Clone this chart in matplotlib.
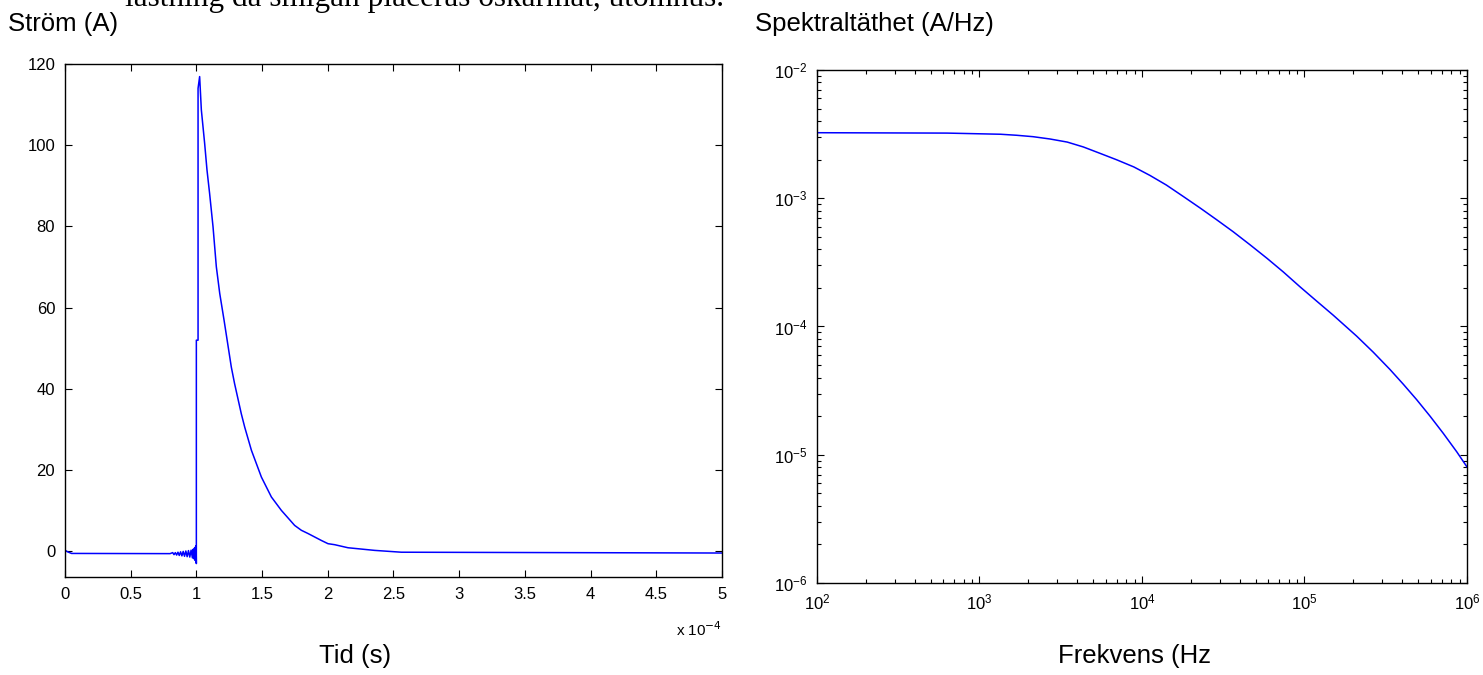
import numpy as np
import matplotlib
matplotlib.use("Agg")
import matplotlib.pyplot as pl

matplotlib.rcParams.update({'font.family': 'Liberation Sans', 'font.size': 12})

# left panel: current pulse, time in units of 1e-4 s
tid = [0.0, 0.02, 0.05, 0.80,
       0.82, 0.83, 0.84, 0.85, 0.86, 0.87, 0.88, 0.89, 0.90, 0.91, 0.92, 0.93,
       0.94, 0.95, 0.96, 0.97, 0.975, 0.98, 0.985, 0.99, 0.993, 0.996, 0.998,
       1.0, 1.0, 1.013, 1.013, 1.025, 1.038, 1.063, 1.081, 1.101, 1.127, 1.152,
       1.178, 1.211, 1.266, 1.291, 1.342, 1.368, 1.419, 1.495, 1.571, 1.647,
       1.748, 1.799, 1.850, 1.951, 2.002, 2.053, 2.154, 2.357, 2.56, 5.0]
strom = [0.3, -0.1, -0.5, -0.55,
         -0.3, -0.8, -0.3, -0.9, -0.2, -1.0, -0.1, -1.1, 0.0, -1.2, 0.1, -1.3,
         0.2, -1.4, 0.3, -1.6, 0.5, -1.8, 0.8, -2.2, 1.1, -2.6, 1.4,
         -3.0, 52.0, 52.0, 114.0, 116.9, 108.7, 100.5, 93.9, 88.1, 79.9, 70.1,
         63.5, 56.9, 45.4, 41.3, 33.9, 30.6, 24.9, 18.3, 13.4, 10.1,
         6.4, 5.2, 4.4, 2.7, 1.9, 1.65, 0.9, 0.25, -0.2, -0.4]

# right panel: spectral density, read as log10 values
frekvens_log10 = [2.0, 2.8, 3.13, 3.229, 3.33, 3.434, 3.54, 3.639, 3.74, 3.844,
                  3.95, 4.049, 4.15, 4.254, 4.36, 4.46, 4.56, 4.665, 4.77, 4.87,
                  4.972, 5.075, 5.177, 5.321, 5.423, 5.526, 5.608, 5.69, 5.772,
                  5.854, 5.937, 6.0]
spektral_log10 = [-2.489, -2.492, -2.501, -2.509, -2.520, -2.538, -2.562, -2.600,
                  -2.649, -2.700, -2.756, -2.822, -2.897, -2.986, -3.078, -3.168,
                  -3.260, -3.363, -3.469, -3.575, -3.690, -3.802, -3.912, -4.075,
                  -4.200, -4.335, -4.450, -4.570, -4.698, -4.833, -4.977, -5.095]

frekvens = 10.0**np.array(frekvens_log10)
spektral = 10.0**np.array(spektral_log10)

fig = pl.figure(figsize=(14.83, 6.75), dpi=100)
ax1 = fig.add_axes([0.0438, 0.1452, 0.4430, 0.7600])
ax2 = fig.add_axes([0.5509, 0.1363, 0.4383, 0.7600])

blue = '#0000ff'
ax1.plot(tid, strom, c=blue, lw=1.1)
ax1.set_xlim(0, 5)
ax1.set_ylim(-6.3, 120)
ax1.set_xticks(np.arange(0, 5.01, 0.5))
ax1.set_xticklabels(['0', '0.5', '1', '1.5', '2', '2.5', '3', '3.5', '4', '4.5', '5'])
ax1.set_yticks(np.arange(0, 121, 20))

ax2.loglog(frekvens, spektral, c=blue, lw=1.1)
ax2.set_xlim(1e2, 1e6)
ax2.set_ylim(1e-6, 1e-2)

# matlab-ish boxes with inward ticks on all sides
for ax in (ax1, ax2):
    ax.tick_params(which='both', direction='in', top=True, right=True, width=0.8)
    ax.tick_params(which='major', length=5, pad=7, labelsize=12)
    ax.tick_params(which='minor', length=3)
    for s in ax.spines.values():
        s.set_linewidth(1.0)

# exponent of the time axis, matlab style
fig.text(722/1483, 0.0667, r'x 10$^{-4}$', fontsize=11, ha='right', va='center')

# labels placed like in the document
fig.text(8/1483, 1-24/675, 'Ström (A)', fontsize=18.5, va='center')
fig.text(755/1483, 1-24/675, 'Spektraltäthet (A/Hz)', fontsize=18.5, va='center')
fig.text(355/1483, 1-656/675, 'Tid (s)', fontsize=18.5, ha='center', va='center')
fig.text(1135/1483, 1-656/675, 'Frekvens (Hz', fontsize=18.5, ha='center', va='center')

# cut off line of body text at the very top
fig.text(125/1483, 1-6/675, 'lastning då smigan placeras oskärmat, utomhus.',
         fontsize=22.5, family='Liberation Serif', va='baseline')

pl.savefig('out.png', dpi=100)
